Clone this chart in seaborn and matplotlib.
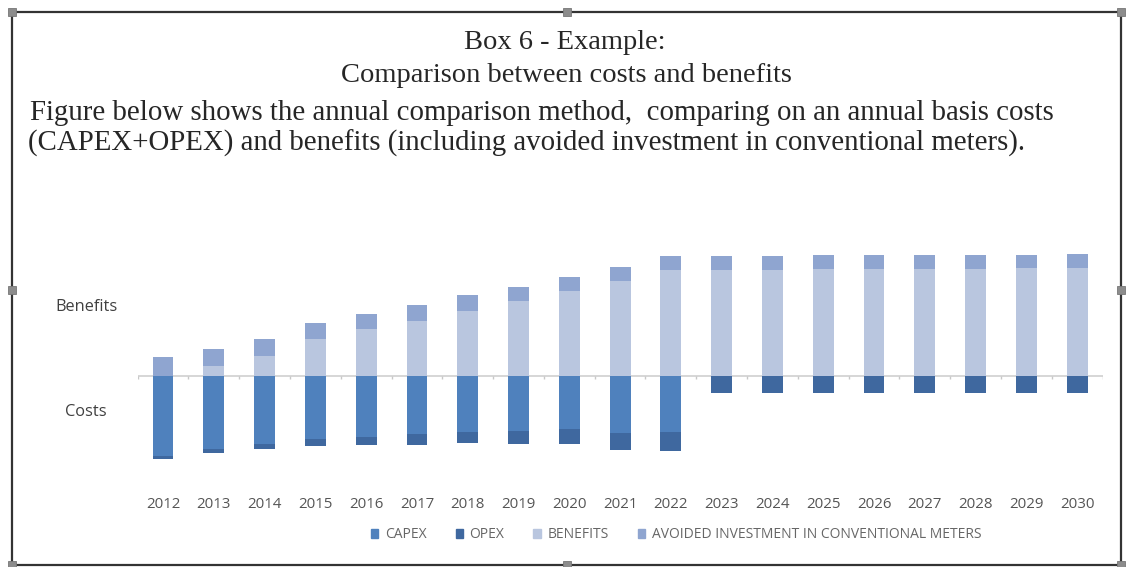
import numpy as np
import pandas as pd
import matplotlib
matplotlib.use("Agg")
import matplotlib.pyplot as plt
from matplotlib.patches import Patch, Rectangle
import seaborn as sns

# --- DATA (arbitrary units) ---
years = list(range(2012, 2031))
capex = [80, 73, 68, 63, 61, 58, 56, 55, 53, 57, 56, 0, 0, 0, 0, 0, 0, 0, 0]
opex = [3, 4, 5, 7, 8, 11, 11, 13, 15, 17, 19, 17, 17, 17, 17, 17, 17, 17, 17]
benefits = [0, 10, 20, 37, 47, 55, 65, 75, 85, 95, 106, 106, 106.5, 107, 107, 107, 107.5, 108, 108.5]
avoided = [19, 17, 17, 16, 15, 16, 16, 14, 14, 14, 14, 14, 13.5, 14, 14, 14, 14, 13.5, 14]

series_names = ["CAPEX", "OPEX", "BENEFITS", "AVOIDED INVESTMENT IN CONVENTIONAL METERS"]
y_labels = ["Benefits", "Costs"]
y_label_pos = [71, -34]

title_lines = ["Box 6 - Example:", "Comparison between costs and benefits"]
body_lines = [
    "Figure below shows the annual comparison method,  comparing on an annual basis costs",
    "(CAPEX+OPEX) and benefits (including avoided investment in conventional meters).",
]

# --- COLOURS ---
CAPEX_C = "#4f81bd"
OPEX_C = "#3f689f"
BEN_C = "#b9c6df"
AVOID_C = "#8fa5d0"

df = pd.DataFrame({
    "year": years,
    "pos_total": np.array(benefits) + np.array(avoided),
    "benefits": benefits,
    "neg_total": -(np.array(capex) + np.array(opex)),
    "neg_capex": -np.array(capex),
})

sns.set_style("white")
plt.rcParams["font.family"] = ["Open Sans", "DejaVu Sans"]

W, H = 1126, 567
fig = plt.figure(figsize=(W / 100, H / 100), dpi=100)
ax = fig.add_axes([137.6 / W, (H - 465) / H, 965 / W, 220 / H])

bar_kw = dict(x="year", width=0.41, errorbar=None, saturation=1, linewidth=0, ax=ax)
sns.barplot(data=df, y="pos_total", color=AVOID_C, **bar_kw)
sns.barplot(data=df, y="benefits", color=BEN_C, **bar_kw)
sns.barplot(data=df, y="neg_total", color=OPEX_C, **bar_kw)
sns.barplot(data=df, y="neg_capex", color=CAPEX_C, **bar_kw)

ax.set_ylim(-89, 131)
ax.set_xlim(-0.5, len(years) - 0.5)
ax.axhline(0, color="#d0d0d0", lw=1.2, zorder=0)
ax.vlines(np.arange(len(years) + 1) - 0.5, -2.5, 0, color="#c8c8c8", lw=1)
for s in ax.spines.values():
    s.set_visible(False)
ax.set_xlabel("")
ax.set_ylabel("")
ax.tick_params(axis="x", length=0, pad=23, labelsize=10.8, labelcolor="#555555")
ax.set_yticks(y_label_pos)
ax.set_yticklabels(y_labels)
ax.tick_params(axis="y", length=0, pad=37, labelsize=11.8, labelcolor="#404040")
for t in ax.get_yticklabels():
    t.set_ha("center")

handles = [Patch(color=c) for c in (CAPEX_C, OPEX_C, BEN_C, AVOID_C)]
fig.legend(handles, series_names, loc="center", bbox_to_anchor=(676 / W, 1 - 535 / H),
           ncol=4, frameon=False, fontsize=10, handlelength=0.55, handleheight=0.55,
           handletextpad=0.45, columnspacing=2.1, labelcolor="#666666")

serif = ["Liberation Serif", "DejaVu Serif"]
fig.text(565 / W, 1 - 49 / H, title_lines[0], ha="center", va="baseline", family=serif, fontsize=20.5)
fig.text(566 / W, 1 - 82 / H, title_lines[1], ha="center", va="baseline", family=serif, fontsize=20.5)
fig.text(30 / W, 1 - 120 / H, body_lines[0], ha="left", va="baseline", family=serif, fontsize=20.8)
fig.text(28 / W, 1 - 151 / H, body_lines[1], ha="left", va="baseline", family=serif, fontsize=20.8)

# frame with sizing handles, like the screenshot
fig.add_artist(Rectangle((12 / W, 1 - 565 / H), 1109 / W, 553 / H, transform=fig.transFigure,
                         fill=False, edgecolor="#333333", lw=1.6))
for hx, hy in [(12, 12), (567, 12), (1121, 12), (12, 290), (1121, 290), (12, 565), (567, 565), (1121, 565)]:
    fig.add_artist(Rectangle(((hx - 4) / W, 1 - (hy + 4) / H), 8 / W, 8 / H, transform=fig.transFigure,
                             facecolor="#8c8c8c", edgecolor="#777777", lw=0.6))

fig.savefig("out.png", dpi=100)
